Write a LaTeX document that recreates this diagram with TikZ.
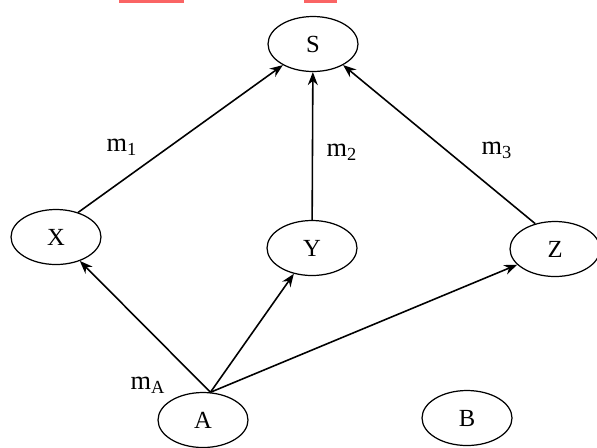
\documentclass[tikz,border=0pt]{standalone}
\usepackage{fontspec}
\setmainfont{Liberation Serif}
\usepackage{xcolor}
\usetikzlibrary{arrows.meta,shapes.geometric}
\definecolor{markred}{RGB}{250,100,100}

\begin{document}
\begin{tikzpicture}[
    x=0.02cm, y=-0.02cm,
    var/.style={draw, ellipse, line width=0.7pt, minimum width=1.8cm,
                minimum height=1.1cm, inner sep=0pt, font=\fontsize{14}{16}\selectfont},
    arr/.style={-{Stealth[length=2.6mm,width=2mm]}, line width=0.9pt},
    lbl/.style={font=\fontsize{15}{17}\selectfont}
]
    \useasboundingbox (0,0) rectangle (597,447);
    % red marks at the top edge
    \fill[markred] (119,0) rectangle (184,3);
    \fill[markred] (304,0) rectangle (337,3);

    \node[var] (S) at (313,44) {S};
    \node[var] (X) at (56,237) {X};
    \node[var] (Y) at (312,248) {Y};
    \node[var] (Z) at (555,249) {Z};
    \node[var] (A) at (203,420) {A};
    \node[var] (B) at (467,418) {B};

    \draw[arr] (X.48) -- (S.215);
    \draw[arr] (Y) -- (S);
    \draw[arr] (Z.128) -- (S.325);
    \draw[arr] (A.75) -- (X);
    \draw[arr] (A.75) -- (Y);
    \draw[arr] (A.75) -- (Z);

    \node[lbl] (m1) at (122,147) {m\textsubscript{1}};
    \node[lbl] (m2) at (342,152) {m\textsubscript{2}};
    \node[lbl] (m3) at (497,150) {m\textsubscript{3}};
    \node[lbl] (mA) at (148,385) {m\textsubscript{A}};
\end{tikzpicture}
\end{document}
